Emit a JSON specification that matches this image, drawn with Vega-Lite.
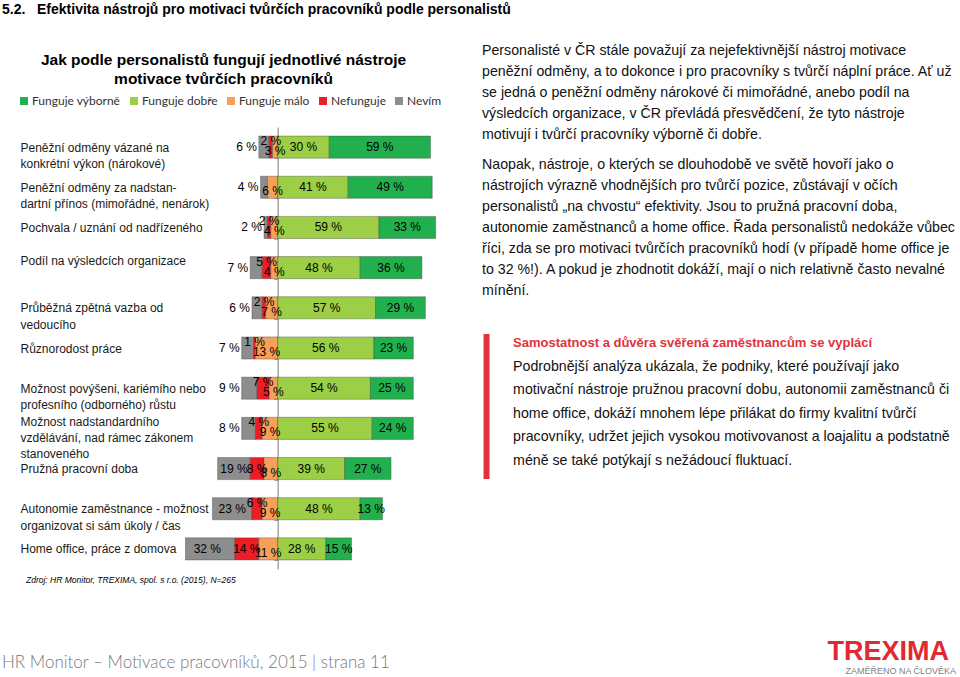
{
  "$schema": "https://vega.github.io/schema/vega-lite/v6.json",
  "background": "white",
  "padding": {"left": 1, "top": 3, "right": 0, "bottom": 0},
  "config": {"view": {"stroke": null}, "font": "Liberation Sans"},
  "title": {
    "text": "5.2.\u00a0\u00a0 Efektivita nástrojů pro motivaci tvůrčích pracovníků podle personalistů",
    "anchor": "start", "frame": "bounds", "dx": 1, "offset": 27,
    "font": "Liberation Sans", "fontSize": 14, "fontWeight": "bold", "color": "#000000"
  },
  "spacing": 2,
  "vconcat": [
    {
      "spacing": 12,
      "hconcat": [
        {
          "width": 285,
          "height": 442,
          "title": {
            "text": ["Jak podle personalistů fungují jednotlivé nástroje", "motivace tvůrčích pracovníků"],
            "anchor": "middle", "frame": "group", "dx": -104, "offset": 34, "lineHeight": 19,
            "font": "Liberation Sans", "fontSize": 15.5, "fontWeight": "bold", "color": "#000000"
          },
          "data": {"values": [
            {"nastroj": "Peněžní odměny vázané na\nkonkrétní výkon (nárokové)", "kat": "Nevím", "pct": 6},
            {"nastroj": "Peněžní odměny vázané na\nkonkrétní výkon (nárokové)", "kat": "Nefunguje", "pct": 2},
            {"nastroj": "Peněžní odměny vázané na\nkonkrétní výkon (nárokové)", "kat": "Funguje málo", "pct": 3},
            {"nastroj": "Peněžní odměny vázané na\nkonkrétní výkon (nárokové)", "kat": "Funguje dobře", "pct": 30},
            {"nastroj": "Peněžní odměny vázané na\nkonkrétní výkon (nárokové)", "kat": "Funguje výborně", "pct": 59},
            {"nastroj": "Peněžní odměny za nadstan-\ndartní přínos (mimořádné, nenárok)", "kat": "Nevím", "pct": 4},
            {"nastroj": "Peněžní odměny za nadstan-\ndartní přínos (mimořádné, nenárok)", "kat": "Nefunguje", "pct": 0},
            {"nastroj": "Peněžní odměny za nadstan-\ndartní přínos (mimořádné, nenárok)", "kat": "Funguje málo", "pct": 6},
            {"nastroj": "Peněžní odměny za nadstan-\ndartní přínos (mimořádné, nenárok)", "kat": "Funguje dobře", "pct": 41},
            {"nastroj": "Peněžní odměny za nadstan-\ndartní přínos (mimořádné, nenárok)", "kat": "Funguje výborně", "pct": 49},
            {"nastroj": "Pochvala / uznání od nadřízeného", "kat": "Nevím", "pct": 2},
            {"nastroj": "Pochvala / uznání od nadřízeného", "kat": "Nefunguje", "pct": 2},
            {"nastroj": "Pochvala / uznání od nadřízeného", "kat": "Funguje málo", "pct": 4},
            {"nastroj": "Pochvala / uznání od nadřízeného", "kat": "Funguje dobře", "pct": 59},
            {"nastroj": "Pochvala / uznání od nadřízeného", "kat": "Funguje výborně", "pct": 33},
            {"nastroj": "Podíl na výsledcích organizace", "kat": "Nevím", "pct": 7},
            {"nastroj": "Podíl na výsledcích organizace", "kat": "Nefunguje", "pct": 5},
            {"nastroj": "Podíl na výsledcích organizace", "kat": "Funguje málo", "pct": 4},
            {"nastroj": "Podíl na výsledcích organizace", "kat": "Funguje dobře", "pct": 48},
            {"nastroj": "Podíl na výsledcích organizace", "kat": "Funguje výborně", "pct": 36},
            {"nastroj": "Průběžná zpětná vazba od\nvedoucího", "kat": "Nevím", "pct": 6},
            {"nastroj": "Průběžná zpětná vazba od\nvedoucího", "kat": "Nefunguje", "pct": 2},
            {"nastroj": "Průběžná zpětná vazba od\nvedoucího", "kat": "Funguje málo", "pct": 7},
            {"nastroj": "Průběžná zpětná vazba od\nvedoucího", "kat": "Funguje dobře", "pct": 57},
            {"nastroj": "Průběžná zpětná vazba od\nvedoucího", "kat": "Funguje výborně", "pct": 29},
            {"nastroj": "Různorodost práce", "kat": "Nevím", "pct": 7},
            {"nastroj": "Různorodost práce", "kat": "Nefunguje", "pct": 1},
            {"nastroj": "Různorodost práce", "kat": "Funguje málo", "pct": 13},
            {"nastroj": "Různorodost práce", "kat": "Funguje dobře", "pct": 56},
            {"nastroj": "Různorodost práce", "kat": "Funguje výborně", "pct": 23},
            {"nastroj": "Možnost povýšeni, kariémího nebo\nprofesního (odborného) růstu", "kat": "Nevím", "pct": 9},
            {"nastroj": "Možnost povýšeni, kariémího nebo\nprofesního (odborného) růstu", "kat": "Nefunguje", "pct": 7},
            {"nastroj": "Možnost povýšeni, kariémího nebo\nprofesního (odborného) růstu", "kat": "Funguje málo", "pct": 5},
            {"nastroj": "Možnost povýšeni, kariémího nebo\nprofesního (odborného) růstu", "kat": "Funguje dobře", "pct": 54},
            {"nastroj": "Možnost povýšeni, kariémího nebo\nprofesního (odborného) růstu", "kat": "Funguje výborně", "pct": 25},
            {"nastroj": "Možnost nadstandardního\nvzdělávání, nad rámec zákonem\nstanoveného", "kat": "Nevím", "pct": 8},
            {"nastroj": "Možnost nadstandardního\nvzdělávání, nad rámec zákonem\nstanoveného", "kat": "Nefunguje", "pct": 4},
            {"nastroj": "Možnost nadstandardního\nvzdělávání, nad rámec zákonem\nstanoveného", "kat": "Funguje málo", "pct": 9},
            {"nastroj": "Možnost nadstandardního\nvzdělávání, nad rámec zákonem\nstanoveného", "kat": "Funguje dobře", "pct": 55},
            {"nastroj": "Možnost nadstandardního\nvzdělávání, nad rámec zákonem\nstanoveného", "kat": "Funguje výborně", "pct": 24},
            {"nastroj": "Pružná pracovní doba", "kat": "Nevím", "pct": 19},
            {"nastroj": "Pružná pracovní doba", "kat": "Nefunguje", "pct": 8},
            {"nastroj": "Pružná pracovní doba", "kat": "Funguje málo", "pct": 8},
            {"nastroj": "Pružná pracovní doba", "kat": "Funguje dobře", "pct": 39},
            {"nastroj": "Pružná pracovní doba", "kat": "Funguje výborně", "pct": 27},
            {"nastroj": "Autonomie zaměstnance - možnost\norganizovat si sám úkoly /  čas", "kat": "Nevím", "pct": 23},
            {"nastroj": "Autonomie zaměstnance - možnost\norganizovat si sám úkoly /  čas", "kat": "Nefunguje", "pct": 6},
            {"nastroj": "Autonomie zaměstnance - možnost\norganizovat si sám úkoly /  čas", "kat": "Funguje málo", "pct": 9},
            {"nastroj": "Autonomie zaměstnance - možnost\norganizovat si sám úkoly /  čas", "kat": "Funguje dobře", "pct": 48},
            {"nastroj": "Autonomie zaměstnance - možnost\norganizovat si sám úkoly /  čas", "kat": "Funguje výborně", "pct": 13},
            {"nastroj": "Home office, práce z domova", "kat": "Nevím", "pct": 32},
            {"nastroj": "Home office, práce z domova", "kat": "Nefunguje", "pct": 14},
            {"nastroj": "Home office, práce z domova", "kat": "Funguje málo", "pct": 11},
            {"nastroj": "Home office, práce z domova", "kat": "Funguje dobře", "pct": 28},
            {"nastroj": "Home office, práce z domova", "kat": "Funguje výborně", "pct": 15}
          ]},
          "transform": [
            {"calculate": "indexof(['Funguje málo','Nefunguje','Nevím','Funguje dobře','Funguje výborně'], datum.kat)", "as": "ord"},
            {"calculate": "datum.ord < 3 ? -datum.pct : datum.pct", "as": "signed"},
            {"stack": "signed", "groupby": ["nastroj"], "sort": [{"field": "ord", "order": "ascending"}], "as": ["x0", "x1"], "offset": "zero"},
            {"calculate": "(datum.x0 + datum.x1) / 2", "as": "mid"},
            {"calculate": "min(datum.x0, datum.x1)", "as": "left"},
            {"calculate": "datum.pct + ' %'", "as": "lab"}
          ],
          "encoding": {
            "y": {
              "field": "nastroj", "type": "nominal",
              "sort": [
                "Peněžní odměny vázané na\nkonkrétní výkon (nárokové)",
                "Peněžní odměny za nadstan-\ndartní přínos (mimořádné, nenárok)",
                "Pochvala / uznání od nadřízeného",
                "Podíl na výsledcích organizace",
                "Průběžná zpětná vazba od\nvedoucího",
                "Různorodost práce",
                "Možnost povýšeni, kariémího nebo\nprofesního (odborného) růstu",
                "Možnost nadstandardního\nvzdělávání, nad rámec zákonem\nstanoveného",
                "Pružná pracovní doba",
                "Autonomie zaměstnance - možnost\norganizovat si sám úkoly /  čas",
                "Home office, práce z domova"
              ],
              "scale": {"paddingInner": 0.45, "paddingOuter": 0.225},
              "axis": {
                "orient": "left", "offset": -92.7,
                "domainColor": "#a6a6a6", "domainWidth": 1.5,
                "ticks": true, "tickColor": "#a6a6a6", "tickSize": 4, "tickBand": "extent",
                "labelAlign": "left", "labelPadding": 253.7, "labelLimit": 300,
                "labelExpr": "split(datum.label, '\\n')",
                "labelOffset": {"condition": {"test": "indexof(datum.label, 'stanoveného') >= 0 || indexof(datum.label, 'Podíl') >= 0", "value": -7}, "value": 0},
                "labelFont": "Liberation Sans", "labelFontSize": 12, "labelLineHeight": 16.3, "labelColor": "#1a1a1a",
                "title": ".", "titleOpacity": 0, "titleFontSize": 2, "titleAngle": 0,
                "titleX": -276.7, "titleY": 220, "titleAlign": "left"
              }
            }
          },
          "layer": [
            {
              "mark": {"type": "bar", "clip": true, "stroke": "#404040", "strokeWidth": 0.7, "strokeOpacity": 0.55},
              "encoding": {
                "x": {"field": "x0", "type": "quantitative", "scale": {"domain": [-54, 112], "nice": false, "zero": false}, "axis": null},
                "x2": {"field": "x1"},
                "color": {
                  "field": "kat", "type": "nominal",
                  "scale": {
                    "domain": ["Funguje výborně", "Funguje dobře", "Funguje málo", "Nefunguje", "Nevím"],
                    "range": ["#22b04e", "#9ccf45", "#f7a05a", "#ee1c24", "#8d8d8d"]
                  },
                  "legend": {
                    "title": null, "orient": "none", "direction": "horizontal", "columns": 5,
                    "legendX": -167, "legendY": -32, "padding": 0,
                    "symbolType": "square", "symbolSize": 64, "symbolStrokeWidth": 0,
                    "labelFont": "Lato", "labelFontSize": 12, "labelColor": "#333333",
                    "labelOffset": 2, "columnPadding": 7
                  }
                }
              }
            },
            {
              "transform": [{"filter": "datum.pct > 0 && (datum.kat == 'Funguje dobře' || datum.kat == 'Funguje výborně' || (datum.kat == 'Nevím' && datum.pct >= 15))"}],
              "mark": {"type": "text", "font": "Liberation Sans", "fontSize": 12, "color": "#000000", "baseline": "middle"},
              "encoding": {"x": {"field": "mid", "type": "quantitative", "axis": null}, "text": {"field": "lab"}}
            },
            {
              "transform": [{"filter": "datum.pct > 0 && datum.kat == 'Funguje málo'"}],
              "mark": {"type": "text", "font": "Liberation Sans", "fontSize": 12, "color": "#000000", "baseline": "middle", "dy": 4},
              "encoding": {"x": {"field": "mid", "type": "quantitative", "axis": null}, "text": {"field": "lab"}}
            },
            {
              "transform": [{"filter": "datum.pct > 0 && datum.pct < 8 && datum.kat == 'Nefunguje'"}],
              "mark": {"type": "text", "font": "Liberation Sans", "fontSize": 12, "color": "#000000", "baseline": "middle", "dy": -6},
              "encoding": {"x": {"field": "mid", "type": "quantitative", "axis": null}, "text": {"field": "lab"}}
            },
            {
              "transform": [{"filter": "datum.pct >= 8 && datum.kat == 'Nefunguje'"}],
              "mark": {"type": "text", "font": "Liberation Sans", "fontSize": 12, "color": "#000000", "baseline": "middle"},
              "encoding": {"x": {"field": "mid", "type": "quantitative", "axis": null}, "text": {"field": "lab"}}
            },
            {
              "transform": [{"filter": "datum.kat == 'Nevím' && datum.pct < 15"}],
              "mark": {"type": "text", "font": "Liberation Sans", "fontSize": 12, "color": "#000000", "baseline": "middle", "align": "right", "dx": -2},
              "encoding": {"x": {"field": "left", "type": "quantitative", "axis": null}, "text": {"field": "lab"}}
            }
          ]
        },
        {
          "width": 478,
          "height": 442,
          "resolve": {"scale": {"y": "independent"}},
          "layer": [
            {
              "data": {"values": [
                {"line": 1, "t": "Personalisté v ČR stále považují za nejefektivnější nástroj motivace"},
                {"line": 2, "t": "peněžní odměny, a to dokonce i pro pracovníky s tvůrčí náplní práce. Ať už"},
                {"line": 3, "t": "se jedná o peněžní odměny nárokové či mimořádné, anebo podíl na"},
                {"line": 4, "t": "výsledcích organizace, v ČR převládá přesvědčení, že tyto nástroje"},
                {"line": 5, "t": "motivují i tvůrčí pracovníky výborně či dobře."}
              ]},
              "mark": {"type": "text", "align": "left", "baseline": "middle", "font": "Liberation Sans", "fontSize": 14.2, "color": "#111111"},
              "encoding": {
                "x": {"datum": 0, "type": "quantitative", "scale": {"domain": [0, 100]}, "axis": null},
                "y": {"field": "line", "type": "quantitative", "scale": {"domain": [1, 5], "range": [-76, 8], "zero": false, "nice": false}, "axis": null},
                "text": {"field": "t"}
              }
            },
            {
              "data": {"values": [
                {"line": 1, "t": "Naopak, nástroje, o kterých se dlouhodobě ve světě hovoří jako o"},
                {"line": 2, "t": "nástrojích výrazně vhodnějších pro tvůrčí pozice, zůstávají v očích"},
                {"line": 3, "t": "personalistů „na chvostu“ efektivity. Jsou to pružná pracovní doba,"},
                {"line": 4, "t": "autonomie zaměstnanců a home office. Řada personalistů nedokáže vůbec"},
                {"line": 5, "t": "říci, zda se pro motivaci tvůrčích pracovníků hodí (v případě home office je"},
                {"line": 6, "t": "to 32 %!). A pokud je zhodnotit dokáží, mají o nich relativně často nevalné"},
                {"line": 7, "t": "mínění."}
              ]},
              "mark": {"type": "text", "align": "left", "baseline": "middle", "font": "Liberation Sans", "fontSize": 14.2, "color": "#111111"},
              "encoding": {
                "x": {"datum": 0, "type": "quantitative", "axis": null},
                "y": {"field": "line", "type": "quantitative", "scale": {"domain": [1, 7], "range": [38, 164], "zero": false, "nice": false}, "axis": null},
                "text": {"field": "t"}
              }
            },
            {
              "data": {"values": [{"a": 0, "b": 1}]},
              "mark": {"type": "rule", "color": "#e2323c", "strokeWidth": 6},
              "encoding": {
                "x": {"datum": 0.95, "type": "quantitative", "axis": null},
                "y": {"field": "a", "type": "quantitative", "scale": {"domain": [0, 1], "range": [207, 352], "zero": false, "nice": false}, "axis": null},
                "y2": {"field": "b"}
              }
            },
            {
              "data": {"values": [{"line": 0, "t": "Samostatnost a důvěra svěřená zaměstnancům se vyplácí"}]},
              "mark": {"type": "text", "align": "left", "baseline": "middle", "font": "Liberation Sans", "fontSize": 13, "fontWeight": "bold", "color": "#e2323c"},
              "encoding": {
                "x": {"datum": 6.5, "type": "quantitative", "axis": null},
                "y": {"field": "line", "type": "quantitative", "scale": {"domain": [0, 5], "range": [216, 334], "zero": false, "nice": false}, "axis": null},
                "text": {"field": "t"}
              }
            },
            {
              "data": {"values": [
                {"line": 1, "t": "Podrobnější analýza ukázala, že podniky, které používají jako"},
                {"line": 2, "t": "motivační nástroje pružnou pracovní dobu, autonomii zaměstnanců či"},
                {"line": 3, "t": "home office, dokáží mnohem lépe přilákat do firmy kvalitní tvůrčí"},
                {"line": 4, "t": "pracovníky, udržet jejich vysokou motivovanost a loajalitu a podstatně"},
                {"line": 5, "t": "méně se také potýkají s nežádoucí fluktuací."}
              ]},
              "mark": {"type": "text", "align": "left", "baseline": "middle", "font": "Liberation Sans", "fontSize": 14.2, "color": "#111111"},
              "encoding": {
                "x": {"datum": 6.5, "type": "quantitative", "axis": null},
                "y": {"field": "line", "type": "quantitative", "scale": {"domain": [0, 5], "range": [216, 334], "zero": false, "nice": false}, "axis": null},
                "text": {"field": "t"}
              }
            }
          ]
        }
      ]
    },
    {
      "width": 776,
      "height": 105,
      "layer": [
        {
          "data": {"values": [{"t": "Zdroj: HR  Monitor, TREXIMA, spol. s r.o.  (2015), N=265"}]},
          "mark": {"type": "text", "align": "left", "baseline": "middle", "font": "Liberation Sans", "fontSize": 8.5, "fontStyle": "italic", "color": "#000000"},
          "encoding": {
            "x": {"datum": 24, "type": "quantitative", "scale": {"domain": [0, 957], "range": [-183, 774], "zero": false, "nice": false}, "axis": null},
            "y": {"datum": 9, "type": "quantitative", "scale": {"domain": [0, 105], "range": [0, 105], "zero": false, "nice": false}, "axis": null},
            "text": {"field": "t"}
          }
        },
        {
          "data": {"values": [{"t": "HR Monitor – Motivace pracovníků, 2015 | strana 11"}]},
          "mark": {"type": "text", "align": "left", "baseline": "middle", "font": "Lato", "fontWeight": 300, "fontSize": 17, "color": "#7a7a7a"},
          "encoding": {
            "x": {"datum": 0, "type": "quantitative", "axis": null},
            "y": {"datum": 92, "type": "quantitative", "axis": null},
            "text": {"field": "t"}
          }
        },
        {
          "data": {"values": [{"t": "TREXIMA"}]},
          "mark": {"type": "text", "align": "right", "baseline": "middle", "font": "Liberation Sans", "fontWeight": "bold", "fontSize": 27, "color": "#e3282f"},
          "encoding": {
            "x": {"datum": 947, "type": "quantitative", "axis": null},
            "y": {"datum": 81, "type": "quantitative", "axis": null},
            "text": {"field": "t"}
          }
        },
        {
          "data": {"values": [{"t": "ZAMĚŘENO NA ČLOVĚKA"}]},
          "mark": {"type": "text", "align": "right", "baseline": "middle", "font": "Liberation Sans", "fontSize": 9, "color": "#7f7f7f"},
          "encoding": {
            "x": {"datum": 954, "type": "quantitative", "axis": null},
            "y": {"datum": 100, "type": "quantitative", "axis": null},
            "text": {"field": "t"}
          }
        }
      ]
    }
  ]
}
